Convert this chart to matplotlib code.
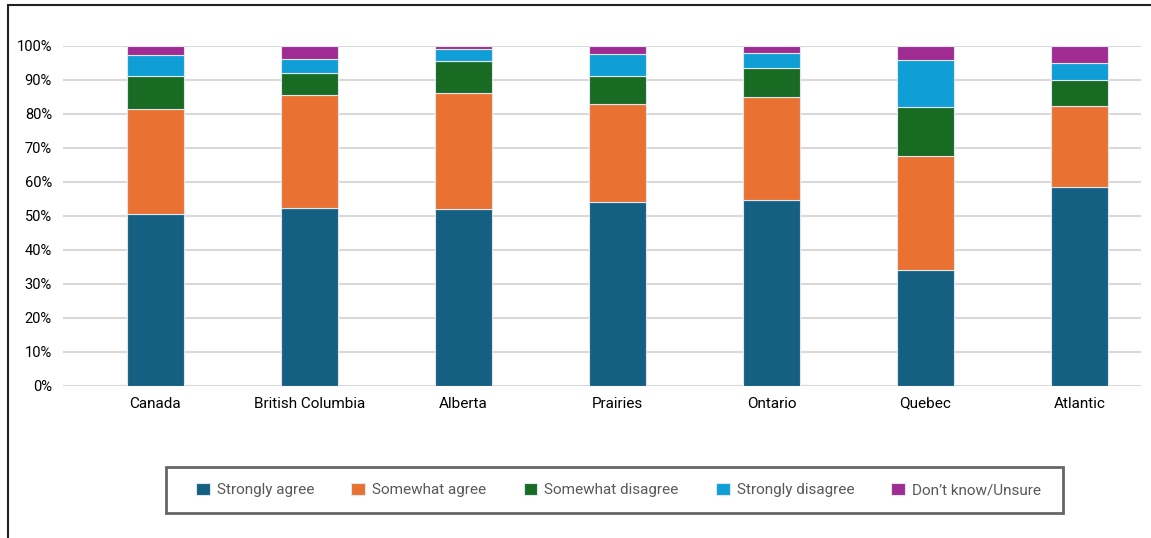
import numpy as np
import matplotlib
matplotlib.use("Agg")
import matplotlib.pyplot as plt
from matplotlib.patches import Rectangle

regions = ["Canada", "British Columbia", "Alberta", "Prairies", "Ontario", "Quebec", "Atlantic"]
series = ["Strongly agree", "Somewhat agree", "Somewhat disagree", "Strongly disagree", "Don\u2019t know/Unsure"]

strongly_agree = [50.4, 52.4, 51.9, 53.9, 54.5, 34.0, 58.3]
somewhat_agree = [31.1, 33.1, 34.2, 29.1, 30.5, 33.7, 24.0]
somewhat_disagree = [9.6, 6.6, 9.5, 8.1, 8.5, 14.2, 7.5]
strongly_disagree = [6.1, 4.1, 3.5, 6.6, 4.3, 13.8, 5.2]
dont_know = [2.8, 3.8, 0.9, 2.3, 2.2, 4.3, 4.8]

colors = ["#156082", "#E97132", "#196B24", "#0F9ED5", "#A02B93"]

plt.rcParams["font.family"] = ["Roboto", "DejaVu Sans"]

W, H = 1151, 538
fig = plt.figure(figsize=(W / 100, H / 100), dpi=100)
ax = fig.add_axes([63 / W, 1 - 385.7 / H, 1078 / W, 340 / H])

x = np.arange(len(regions))
bottom = np.zeros(len(regions))
data = [strongly_agree, somewhat_agree, somewhat_disagree, strongly_disagree, dont_know]
for name, vals, c in zip(series, data, colors):
    ax.bar(x, vals, bottom=bottom, width=0.375, color=c, edgecolor="#dfe6ec",
           linewidth=0.8, label=name, zorder=3)
    bottom += np.array(vals)

ax.set_xlim(-0.6, 6.4)
ax.set_ylim(0, 100)
ax.set_yticks(np.arange(0, 101, 10))
ax.set_yticklabels([f"{v}%" for v in range(0, 101, 10)])
ax.set_xticks(x)
ax.set_xticklabels(regions)
ax.tick_params(axis="y", length=0, pad=8, labelsize=10.5)
ax.tick_params(axis="x", length=0, pad=8, labelsize=11)
ax.grid(axis="y", color="#d9d9d9", linewidth=1.5, zorder=0)
for s in ax.spines.values():
    s.set_visible(False)

# legend entries (frameless) + separate box
leg = fig.legend(loc="center left", bbox_to_anchor=(196 / W, 1 - 490 / H), ncol=5,
                 frameon=False, fontsize=11, handlelength=0.9, handleheight=0.9,
                 columnspacing=2.45, handletextpad=0.45, borderpad=0,
                 borderaxespad=0, labelcolor="#595959")
fig.patches.append(Rectangle((166 / W, 1 - 513 / H), 897 / W, 46 / H,
                             transform=fig.transFigure, fill=False,
                             edgecolor="#666666", linewidth=2))

# outer frame
fig.patches.append(Rectangle((8 / W, -0.1), 1.2, 1 - 5 / H + 0.1,
                             transform=fig.transFigure, fill=False,
                             edgecolor="#222222", linewidth=1.5))

fig.savefig("out.png", dpi=100)
